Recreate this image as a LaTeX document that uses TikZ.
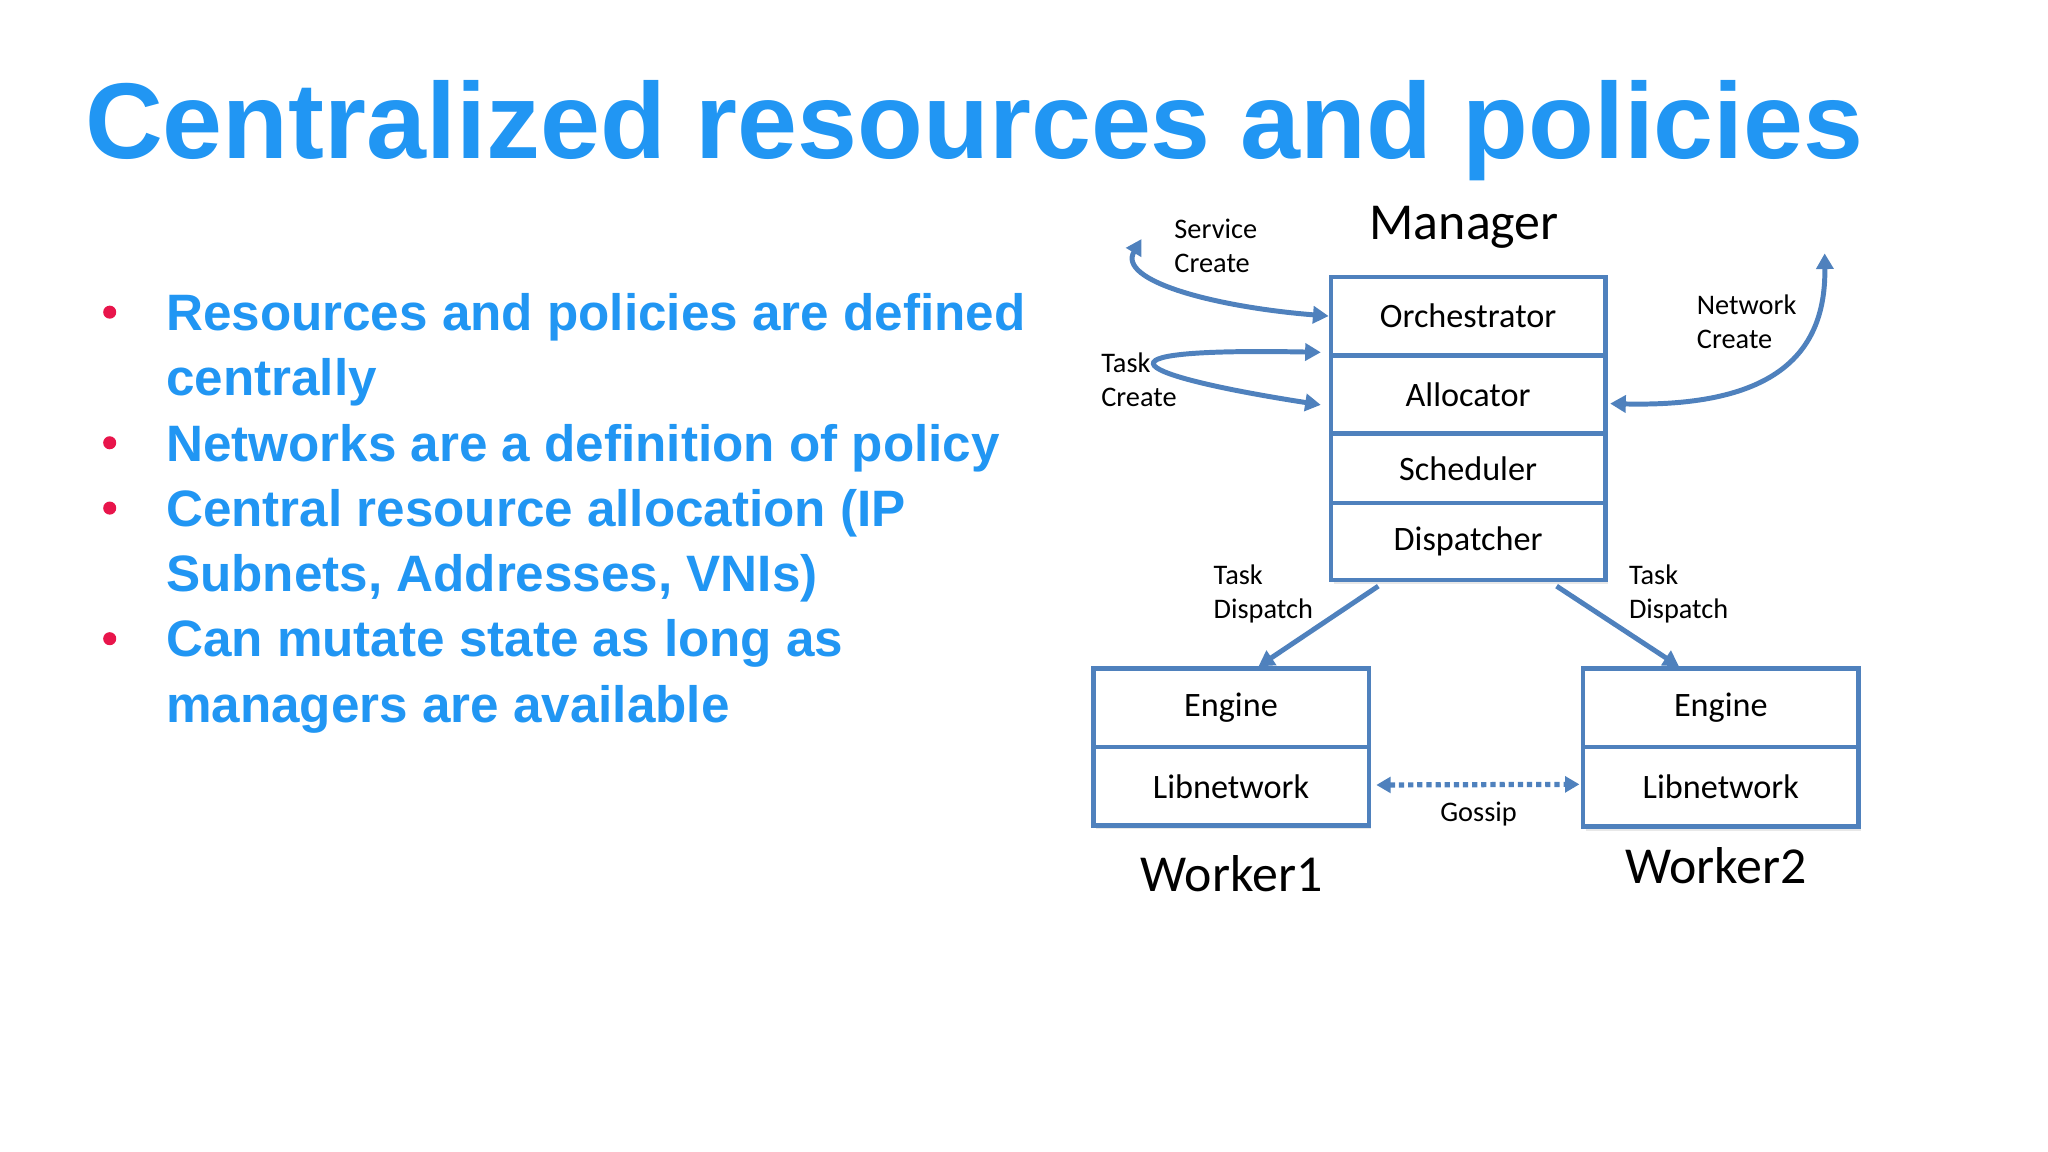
\documentclass[tikz,border=0pt]{standalone}
\usepackage{fontspec}
\setmainfont{Carlito}
\newfontfamily\arialfont{Liberation Sans}
\usetikzlibrary{arrows.meta,calc,shadows}
\definecolor{titolo}{RGB}{33,150,243}
\definecolor{bordo}{RGB}{79,129,189}
\definecolor{rosso}{RGB}{232,21,75}
\tikzset{
  cella/.style={draw=bordo, line width=3.5pt, fill=white, inner sep=0pt,
    minimum width=210pt, minimum height=60pt, font=\fontsize{26.2}{28}\selectfont,
    drop shadow={shadow xshift=2pt, shadow yshift=-3pt, opacity=0.18}},
  etichetta/.style={align=left, anchor=west, inner sep=0pt, font=\fontsize{21.7}{26}\selectfont},
  nome/.style={inner sep=0pt, font=\fontsize{39.7}{42}\selectfont},
  punto/.style={circle, fill=rosso, inner sep=0pt, minimum size=10pt},
  voce/.style={anchor=base west, align=left, inner sep=0pt, text=titolo,
    font=\arialfont\bfseries\fontsize{39.2}{50}\selectfont},
  freccia/.style={draw=bordo, line width=3.8pt, >={Triangle[length=12pt,width=13pt]}}
}
\begin{document}
\begin{tikzpicture}[x=1pt,y=-1pt]
    \useasboundingbox (0,0) rectangle (1568,882);
    % Titolo
    \node[anchor=base west, inner sep=0pt, text=titolo,
      font=\arialfont\bfseries\fontsize{82.5}{90}\selectfont] (titolo) at (65,121.5)
      {Centralized resources and policies};
    % Elenco puntato (base = ultima riga)
    \node[punto] (p1) at (84,239) {};
    \node[voce] (v1) at (127,303) {Resources and policies are defined\\centrally};
    \node[punto] (p2) at (84,339) {};
    \node[voce] (v2) at (127,353) {Networks are a definition of policy};
    \node[punto] (p3) at (84,389) {};
    \node[voce] (v3) at (127,453) {Central resource allocation (IP\\Subnets, Addresses, VNIs)};
    \node[punto] (p4) at (84,489) {};
    \node[voce] (v4) at (127,553) {Can mutate state as long as\\managers are available};
    % Manager
    \node[nome] (manager) at (1121,174) {Manager};
    \node[cella] (orch) at (1124,242) {Orchestrator};
    \node[cella] (alloc) at (1124,302) {Allocator};
    \node[cella, minimum height=53pt] (sched) at (1124,358.5) {Scheduler};
    \node[cella, minimum height=59pt] (disp) at (1124,414.5) {Dispatcher};
    % Worker
    \node[cella, minimum width=211pt] (eng1) at (942.5,542) {Engine};
    \node[cella, minimum width=211pt] (lib1) at (942.5,602) {Libnetwork};
    \node[nome] (worker1) at (943,669) {Worker1};
    \node[cella, minimum width=211pt] (eng2) at (1317.5,542) {Engine};
    \node[cella, minimum width=211pt, minimum height=61pt] (lib2) at (1317.5,602.5) {Libnetwork};
    \node[nome] (worker2) at (1314,663) {Worker2};
    % Etichette
    \node[etichetta] (sc) at (899,188) {Service\\Create};
    \node[etichetta] (tc) at (843,291) {Task\\Create};
    \node[etichetta] (nc) at (1299,246) {Network\\Create};
    \node[etichetta] (td1) at (929,455) {Task\\Dispatch};
    \node[etichetta] (td2) at (1247,455) {Task\\Dispatch};
    \node[inner sep=0pt, font=\fontsize{21.7}{26}\selectfont] (gossip) at (1132,623) {Gossip};
    % Frecce
    \coordinate (sce) at (874,183);
    \coordinate (nce) at (1397,194);
    \draw[freccia, <->] (sce) .. controls (855,215) and (930,235) .. (orch.west);
    \draw[freccia, <->] ($(orch.south west)+(-6,-4)$) .. controls (820,266) and (870,288) .. ($(alloc.west)+(-6,8)$);
    \draw[freccia, <->] ($(alloc.east)+(2,7)$) .. controls (1360,312) and (1398,270) .. (nce);
    \draw[freccia, ->] ($(disp.south west)+(38,3)$) -- ($(eng1.north)+(21,0)$);
    \draw[freccia, ->] ($(disp.south east)+(-39,3)$) -- ($(eng2.north)+(-32,0)$);
    \draw[freccia, <->, line width=4pt, dash pattern=on 4pt off 3pt,
      >={Triangle[length=11pt,width=12pt]}] ($(lib1.east)+(4,-1)$) -- ($(lib2.west)+(-1,-2)$);
\end{tikzpicture}
\end{document}
